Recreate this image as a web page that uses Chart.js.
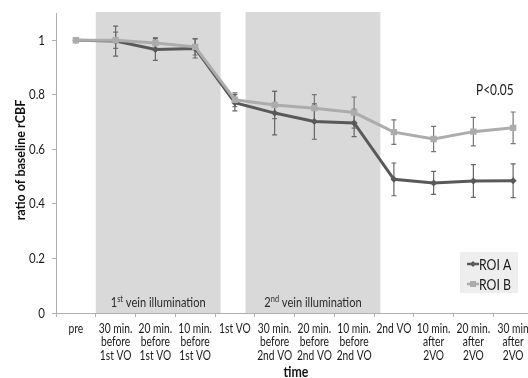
<!DOCTYPE html>
<html><head><meta charset="utf-8">
<script src="https://cdn.jsdelivr.net/npm/chart.js@4"></script>
<style>html,body{margin:0;padding:0;background:#fff;overflow:hidden;width:528px;height:378px}#wrap{width:545px;height:378px}</style>
</head><body><div id="wrap"><canvas id="c" width="545" height="378"></canvas></div>
<script>
const categories = [
  ["pre"],
  ["30 min.","before","1st VO"],
  ["20 min.","before","1st VO"],
  ["10 min.","before","1st VO"],
  ["1st VO"],
  ["30 min.","before","2nd VO"],
  ["20 min.","before","2nd VO"],
  ["10 min.","before","2nd VO"],
  ["2nd VO"],
  ["10 min.","after","2VO"],
  ["20 min.","after","2VO"],
  ["30 min","after","2VO"]
];
const roiA = [1.0, 0.997, 0.966, 0.970, 0.771, 0.733, 0.702, 0.697, 0.490, 0.477, 0.484, 0.485];
const roiB = [1.0, 1.0, 0.990, 0.976, 0.782, 0.763, 0.751, 0.735, 0.663, 0.638, 0.665, 0.679];
const errA = [0, 0.055, 0.040, 0.035, 0.030, 0.080, 0.065, 0.050, 0.060, 0.042, 0.060, 0.062];
const errB = [0, 0.030, 0.020, 0.030, 0.025, 0.050, 0.050, 0.057, 0.045, 0.046, 0.052, 0.058];
const yTicks = [0, 0.2, 0.4, 0.6, 0.8, 1];
const bands = [
  {from: 0.5, to: 3.64, label: ["1", "st", " vein illumination"]},
  {from: 4.27, to: 7.66, label: ["2", "nd", " vein illumination"]}
];
const seriesNames = ["ROI A", "ROI B"];
const colA = "#595959", colB = "#acacac";
const FONT = "Lato";
const SX = 0.82;

function sq(ctx, text, x, y, font, align, color) {
  ctx.save();
  ctx.font = font; ctx.fillStyle = color; ctx.textBaseline = "middle"; ctx.textAlign = align || "left";
  ctx.translate(x, y); ctx.scale(SX, 1);
  ctx.fillText(text, 0, 0);
  ctx.restore();
}
function sqw(ctx, text, font) { ctx.save(); ctx.font = font; const w = ctx.measureText(text).width * SX; ctx.restore(); return w; }

const decor = {
  id: "decor",
  beforeDatasetsDraw(chart) {
    const {ctx, chartArea: ca, scales: {x, y}} = chart;
    ctx.save();
    bands.forEach(b => {
      const x0 = x.getPixelForValue(b.from), x1 = x.getPixelForValue(b.to);
      ctx.fillStyle = "#d9d9d9";
      ctx.fillRect(x0, ca.top - 1, x1 - x0, ca.bottom - ca.top + 1);
      const big = "13.5px " + FONT, small = "9px " + FONT;
      const w0 = sqw(ctx, b.label[0], big), w1 = sqw(ctx, b.label[1], small), w2 = sqw(ctx, b.label[2], big);
      let tx = (x0 + x1) / 2 - (w0 + w1 + w2) / 2;
      const ty = ca.bottom - 10;
      sq(ctx, b.label[0], tx, ty, big, "left", "#2a2a2a"); tx += w0;
      sq(ctx, b.label[1], tx, ty - 4, small, "left", "#2a2a2a"); tx += w1;
      sq(ctx, b.label[2], tx, ty, big, "left", "#2a2a2a");
    });
    const drawErr = (vals, errs, color) => {
      ctx.strokeStyle = color; ctx.lineWidth = 1.2;
      vals.forEach((v, i) => {
        if (!errs[i]) return;
        const px = x.getPixelForValue(i);
        const yt = y.getPixelForValue(v + errs[i]), yb = y.getPixelForValue(v - errs[i]);
        ctx.beginPath();
        ctx.moveTo(px, yt); ctx.lineTo(px, yb);
        ctx.moveTo(px - 2.5, yt); ctx.lineTo(px + 2.5, yt);
        ctx.moveTo(px - 2.5, yb); ctx.lineTo(px + 2.5, yb);
        ctx.stroke();
      });
    };
    drawErr(roiB, errB, "#777");
    drawErr(roiA, errA, "#666");
    ctx.restore();
  },
  afterDraw(chart) {
    const {ctx, chartArea: ca, scales: {x, y}} = chart;
    const tf = "12.5px " + FONT;
    categories.forEach((lines, i) => {
      const px = x.getPixelForValue(i);
      lines.forEach((t, j) => sq(ctx, t, px, ca.bottom + 16 + j * 13.4, tf, "center", "#1a1a1a"));
    });
    yTicks.forEach(v => {
      const t = v === 0 ? "0" : v === 1 ? "1" : v.toFixed(1);
      sq(ctx, t, 45, y.getPixelForValue(v), "14px " + FONT, "right", "#1a1a1a");
    });
    ctx.save();
    ctx.fillStyle = "#111";
    ctx.font = "bold 12.5px " + FONT;
    ctx.textAlign = "center"; ctx.textBaseline = "middle";
    ctx.translate(21, 160); ctx.rotate(-Math.PI / 2);
    ctx.fillText("ratio of baseline rCBF", 0, 0);
    ctx.restore();
    sq(ctx, "time", 296, 372, "bold 15px " + FONT, "center", "#111");
    sq(ctx, "P<0.05", 476, 90, "14.5px " + FONT, "left", "#1a1a1a");
    ctx.save();
    ctx.fillStyle = "#eeeeee";
    ctx.fillRect(460, 252, 58, 41);
    const items = [{n: seriesNames[0], c: colA, y: 264, s: "d"}, {n: seriesNames[1], c: colB, y: 284, s: "s"}];
    items.forEach(it => {
      ctx.strokeStyle = it.c; ctx.lineWidth = 2.5;
      ctx.beginPath(); ctx.moveTo(467, it.y); ctx.lineTo(479, it.y); ctx.stroke();
      ctx.fillStyle = it.c;
      if (it.s === "s") ctx.fillRect(470, it.y - 3, 6, 6);
      else { ctx.beginPath(); ctx.moveTo(473, it.y - 3); ctx.lineTo(476, it.y); ctx.lineTo(473, it.y + 3); ctx.lineTo(470, it.y); ctx.fill(); }
      sq(ctx, it.n, 479, it.y + 1, "15px " + FONT, "left", "#1a1a1a");
    });
    ctx.restore();
  }
};

new Chart(document.getElementById("c"), {
  type: "line",
  data: {
    labels: categories,
    datasets: [
      {label: seriesNames[1], data: roiB, borderColor: colB, backgroundColor: colB, borderWidth: 3,
       pointStyle: "rect", pointRadius: 4.5, pointBorderWidth: 0, tension: 0},
      {label: seriesNames[0], data: roiA, borderColor: colA, backgroundColor: colA, borderWidth: 3,
       pointStyle: "rectRot", pointRadius: 3.5, pointBorderWidth: 0, tension: 0}
    ]
  },
  options: {
    responsive: false, animation: false, devicePixelRatio: 1,
    layout: {padding: {top: 13, right: 12, left: 0, bottom: 0}},
    plugins: {legend: {display: false}, tooltip: {enabled: false}},
    scales: {
      x: {
        offset: true,
        grid: {offset: true, drawOnChartArea: false, drawTicks: true, tickLength: 4, color: "#b0b0b0"},
        border: {color: "#b0b0b0", width: 1},
        ticks: {display: false, autoSkip: false},
        afterFit(s) { s.height = 65; }
      },
      y: {
        min: 0, max: 1.1,
        afterBuildTicks(s) { s.ticks = yTicks.map(v => ({value: v})); },
        grid: {drawOnChartArea: false, drawTicks: true, tickLength: 4, color: "#b0b0b0"},
        border: {color: "#b0b0b0", width: 1},
        ticks: {display: false},
        afterFit(s) { s.width = 56; }
      }
    }
  },
  plugins: [decor]
});
</script></body></html>
